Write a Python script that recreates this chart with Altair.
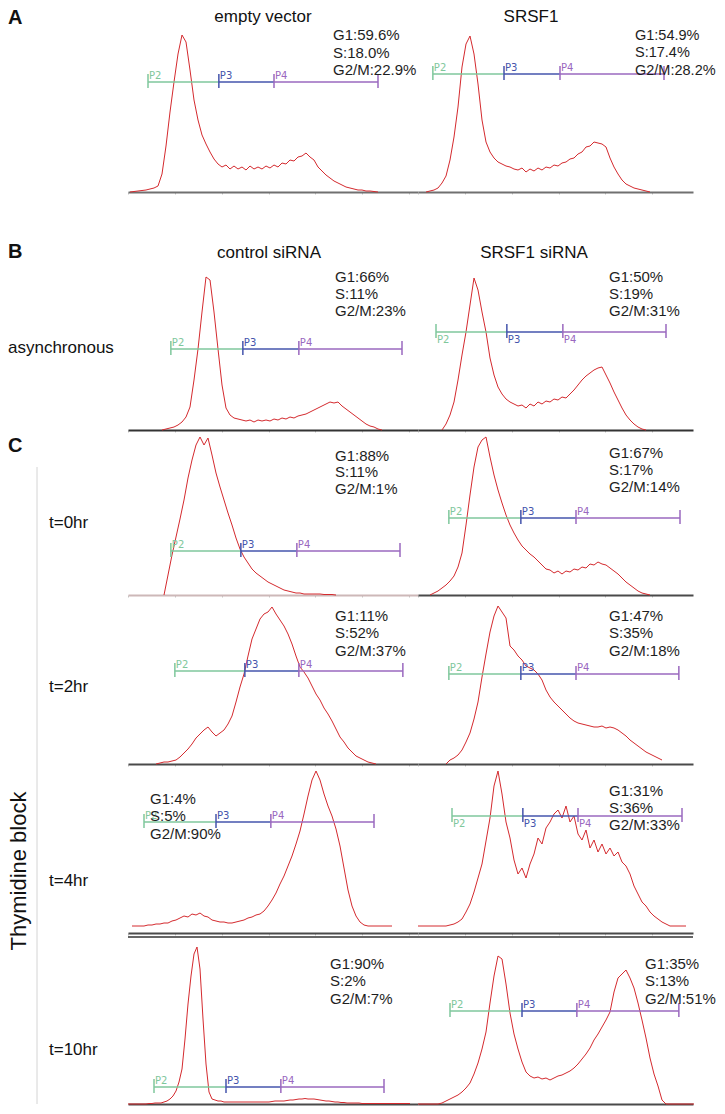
import altair as alt
import pandas as pd

# ---------------------------------------------------------------
# Data.
# x: DNA-content channel (3.5 channels per pixel), evenly spaced bins
# counts: cell counts in arbitrary units (height above baseline)
# ---------------------------------------------------------------
EV_START, EV_STEP = 7, 14
EV_COUNTS = [0, 0.5, 1, 1.5, 2, 3, 4, 6, 18, 46, 80, 110, 138, 157, 150, 122, 92, 72, 57, 48,
             40, 33, 28, 25, 27, 23, 26, 23, 25, 22, 26, 23, 25, 23, 26, 24, 27, 25, 29, 28,
             32, 31, 35, 36, 39, 35, 32, 25, 21, 17, 14, 11, 9, 7, 5, 4, 3, 2, 2, 1, 1, 0.5, 0]

SR_START, SR_STEP = 28, 14
SR_COUNTS = [0, 1, 2, 4, 9, 16, 32, 55, 85, 125, 148, 156, 138, 108, 72, 50, 40, 34, 30, 28,
             26, 25, 23, 22, 24, 20, 23, 21, 24, 22, 25, 24, 27, 26, 29, 30, 33, 34, 38, 40,
             45, 46, 50, 49, 48, 45, 34, 25, 18, 12, 8, 6, 4, 3, 2, 1, 0]

CA_START, CA_STEP = 119, 14
CA_COUNTS = [0, 1, 2, 3, 5, 8, 13, 23, 50, 81, 118, 153, 150, 118, 81, 45, 22, 15, 12, 11,
             10, 9, 10, 8, 10, 9, 10, 9, 11, 10, 12, 11, 13, 12, 14, 15, 16, 18, 20, 22,
             24, 26, 28, 27, 28, 24, 21, 18, 15, 12, 9, 6, 4, 3, 1, 0]

SA_START, SA_STEP = 84, 14
SA_COUNTS = [0, 6, 15, 28, 50, 75, 98, 125, 152, 140, 118, 98, 72, 55, 43, 36, 31, 28, 26, 24,
             25, 22, 26, 24, 28, 26, 29, 28, 31, 30, 33, 32, 36, 40, 45, 50, 54, 57, 60, 62,
             63, 55, 47, 38, 30, 22, 15, 10, 6, 3, 1, 0]

C0_START, C0_STEP = 126, 14
C0_COUNTS = [0, 20, 40, 58, 76, 95, 117, 135, 150, 158, 150, 157, 140, 122, 108, 95, 82, 70, 57, 46,
             38, 32, 26, 22, 19, 16, 13, 11, 9, 7, 5, 4, 3, 2, 2, 1, 1, 1, 1, 1, 0.5, 0.5, 0.5, 0]

S0_START, S0_STEP = 42, 14
S0_COUNTS = [0, 2, 4, 7, 10, 14, 19, 28, 42, 70, 100, 128, 148, 155, 158, 138, 120, 105, 92, 80,
             70, 62, 55, 49, 45, 41, 38, 34, 30, 26, 25, 22, 24, 21, 24, 23, 26, 25, 28, 27,
             31, 30, 33, 31, 30, 27, 24, 21, 17, 13, 10, 7, 4, 2, 1, 0]

C2_START, C2_STEP = 98, 14
C2_COUNTS = [0, 1, 2, 2, 3, 4, 7, 11, 15, 20, 26, 30, 34, 37, 32, 28, 31, 34, 40, 48,
             62, 77, 90, 108, 125, 135, 145, 150, 152, 157, 150, 144, 138, 130, 120, 108, 97, 92, 86, 78,
             70, 64, 56, 50, 43, 35, 27, 22, 16, 12, 8, 6, 4, 2, 1, 0]

S2_START, S2_STEP = 98, 14
S2_COUNTS = [0, 4, 6, 9, 14, 22, 31, 45, 62, 87, 110, 132, 148, 158, 152, 146, 118, 114, 108, 104,
             98, 96, 94, 90, 84, 74, 67, 62, 58, 54, 50, 46, 43, 41, 40, 39, 38, 37, 37, 38,
             36, 37, 36, 34, 31, 28, 24, 21, 18, 15, 12, 10, 8, 6, 4]

C4_START, C4_STEP = 14, 14
C4_COUNTS = [0, 0, 0, 0, 1, 1, 2, 2, 3, 3, 5, 6, 8, 10, 9, 12, 11, 13, 10, 9,
             6, 5, 4, 4, 3, 3, 4, 5, 6, 8, 9, 11, 12, 15, 20, 26, 33, 42, 50, 60,
             70, 82, 95, 112, 130, 146, 155, 146, 132, 120, 110, 97, 80, 58, 36, 20, 10, 4, 1, 0,
             0, 0, 0, 0, 0, 0]

S4_START, S4_STEP = 0, 14
S4_COUNTS = [0, 0, 0, 0, 0, 0, 0, 0, 1, 2, 4, 7, 14, 22, 34, 48, 62, 85, 108, 140,
             155, 132, 104, 88, 66, 52, 58, 48, 62, 72, 88, 82, 98, 104, 112, 116, 108, 120, 104, 110,
             92, 86, 96, 78, 86, 74, 82, 72, 78, 70, 74, 64, 60, 52, 40, 32, 24, 20, 14, 10,
             7, 4, 2, 0, 0, 0, 0, 0]

C10_START, C10_STEP = 0, 10.5
C10_COUNTS = [0, 0, 0, 0, 0, 0, 0, 0.5, 0.5, 1, 1, 1, 2, 3, 5, 8, 13, 22, 35, 65,
              100, 128, 150, 157, 135, 85, 40, 12, 5, 4, 3, 3, 2, 2, 2, 2, 2, 2, 2, 2,
              2, 2, 2, 2, 2, 2, 2, 2, 2.5, 3, 3, 3, 3, 3.5, 4, 4, 4.5, 5, 5, 5.5,
              5, 5, 5, 4.5, 4, 3.5, 3, 3, 2.5, 2, 2, 1.5, 1.5, 1, 1, 1, 1, 1, 0.5, 0.5,
              0.5, 0.5, 0.5, 0.5, 0.5, 0.5, 0.5, 0.5, 0.5, 0.5, 0.5, 0.5, 0.5, 0.5, 0.5]

S10_START, S10_STEP = 0, 14
S10_COUNTS = [0, 0, 0, 0, 0, 0, 1, 3, 5, 7, 9, 12, 16, 21, 30, 41, 55, 72, 101, 128,
              148, 145, 120, 91, 70, 55, 42, 32, 28, 26, 27, 25, 26, 24, 26, 28, 29, 31, 33, 36,
              40, 45, 50, 56, 64, 70, 77, 84, 92, 112, 126, 130, 134, 126, 116, 101, 84, 66, 46, 30,
              18, 4, 0, 0, 0, 0, 0, 0, 0, 0]

# gates P2, P3, P4, end (channel) and gate height (count units)
GATES_EV, GATE_H_EV = [70, 318, 511, 875], 110
GATES_SR, GATE_H_SR = [52, 301, 497, 861], 118
GATES_CA, GATE_H_CA = [150, 402, 598, 959], 81
GATES_SA, GATE_H_SA = [63, 311, 507, 868], 98
GATES_C0, GATE_H_C0 = [150, 395, 591, 952], 44
GATES_S0, GATE_H_S0 = [108, 360, 553, 917], 77
GATES_C2, GATE_H_C2 = [164, 409, 598, 962], 93
GATES_S2, GATE_H_S2 = [108, 360, 553, 913], 90
GATES_C4, GATE_H_C4 = [56, 308, 500, 861], 104
GATES_S4, GATE_H_S4 = [119, 367, 560, 924], 110
GATES_C10, GATE_H_C10 = [91, 343, 535, 896], 17
GATES_S10, GATE_H_S10 = [112, 364, 556, 913], 93

GATE_NAMES = ["P2", "P3", "P4"]

STATS_EV = ["G1:59.6%", "S:18.0%", "G2/M:22.9%"]
STATS_SR = ["G1:54.9%", "S:17.4%", "G2/M:28.2%"]
STATS_CA = ["G1:66%", "S:11%", "G2/M:23%"]
STATS_SA = ["G1:50%", "S:19%", "G2/M:31%"]
STATS_C0 = ["G1:88%", "S:11%", "G2/M:1%"]
STATS_S0 = ["G1:67%", "S:17%", "G2/M:14%"]
STATS_C2 = ["G1:11%", "S:52%", "G2/M:37%"]
STATS_S2 = ["G1:47%", "S:35%", "G2/M:18%"]
STATS_C4 = ["G1:4%", "S:5%", "G2/M:90%"]
STATS_S4 = ["G1:31%", "S:36%", "G2/M:33%"]
STATS_C10 = ["G1:90%", "S:2%", "G2/M:7%"]
STATS_S10 = ["G1:35%", "S:13%", "G2/M:51%"]

COL_TITLES_A = ["empty vector", "SRSF1"]
COL_TITLES_B = ["control siRNA", "SRSF1 siRNA"]
ROW_LABELS = ["asynchronous", "t=0hr", "t=2hr", "t=4hr", "t=10hr"]

# ---------------------------------------------------------------
# styling / layout
# ---------------------------------------------------------------
FONT = "Liberation Sans"
RED = "#d42a2e"
GREEN = "#7fc79c"
BLUE = "#4454ac"
PURPLE = "#9a68bf"
TXT = "#1e1e1e"
DARK = "#4a4a4a"
LIGHT = "#cdb8b8"
CH_PER_PX = 3.5
LEFT_W = 290
RIGHT_W = 275
LABEL_W = 120
ONE = pd.DataFrame({"k": [0]})
H_A, H_B, H_C0, H_C2, H_C4, H_C10 = 184, 238, 165, 169, 162, 178


def text_at(txt, x, y, size, align="left", color=TXT, weight="normal",
            angle=0, font=FONT):
    return alt.Chart(ONE).mark_text(
        align=align, baseline="alphabetic", font=font, fontSize=size, color=color,
        fontWeight=weight, angle=angle,
    ).encode(x=alt.value(x), y=alt.value(y), text=alt.value(txt))


def hist_panel(counts, x0, dx, gates, gh, H, stats, sx, sy, lh=17.5, W=LEFT_W,
               title=None, tx=None, ty=None, below=False, double=False, dom=DARK,
               show_ticks=True, stat_size=15):
    xmax = W * CH_PER_PX
    df = pd.DataFrame({"ch": [x0 + dx * i for i in range(len(counts))], "n": counts})
    xs = alt.Scale(domain=[0, xmax], nice=False, zero=False)
    ys = alt.Scale(domain=[0, H], nice=False, zero=False)
    xaxis = alt.Axis(title=None, labels=False, grid=False, domainColor=dom,
                     domainWidth=2, ticks=show_ticks, tickColor="#c4c4c4", tickSize=2,
                     values=[v * 41 for v in range(int(xmax // 41) + 1)],
                     offset=7 if double else 0)
    curve = alt.Chart(df).mark_line(color=RED, strokeWidth=1).encode(
        x=alt.X("ch:Q", scale=xs, axis=xaxis),
        y=alt.Y("n:Q", scale=ys, axis=None),
    )
    seg_df = pd.DataFrame({"x": gates[:-1], "x2": gates[1:], "y": [gh] * 3,
                           "c": [GREEN, BLUE, PURPLE]})
    segs = alt.Chart(seg_df).mark_rule(strokeWidth=1.5).encode(
        x=alt.X("x:Q", scale=xs), x2="x2:Q", y=alt.Y("y:Q", scale=ys),
        color=alt.Color("c:N", scale=None),
    )
    tick_df = pd.DataFrame({"x": gates, "y": [gh - 6] * 4, "y2": [gh + 8] * 4,
                            "c": [GREEN, BLUE, PURPLE, PURPLE]})
    ticks = alt.Chart(tick_df).mark_rule(strokeWidth=1.5).encode(
        x=alt.X("x:Q", scale=xs), y=alt.Y("y:Q", scale=ys), y2="y2:Q",
        color=alt.Color("c:N", scale=None),
    )
    lab_df = pd.DataFrame({"x": gates[:3], "y": [gh] * 3, "t": GATE_NAMES,
                           "c": [GREEN, BLUE, PURPLE]})
    labs = alt.Chart(lab_df).mark_text(
        align="left", baseline="top" if below else "bottom",
        dy=3 if below else -1, dx=1, font="DejaVu Sans", fontSize=10,
    ).encode(
        x=alt.X("x:Q", scale=xs), y=alt.Y("y:Q", scale=ys), text="t:N",
        color=alt.Color("c:N", scale=None),
    )
    layers = [curve, segs, ticks, labs]
    for i, s in enumerate(stats):
        layers.append(text_at(s, sx, sy + i * lh, stat_size))
    if title is not None:
        layers.append(text_at(title, tx, ty, 17, align="center", color="#111"))
    if double:
        layers.append(alt.Chart(ONE).mark_rule(color="#333", strokeWidth=1.5).encode(
            x=alt.value(0), x2=alt.value(W), y=alt.value(H + 11)))
    return alt.layer(*layers).properties(width=W, height=H)


def label(txt, x, y, size=17, weight="normal", angle=0, align="left"):
    return text_at(txt, x, y, size, align=align, color="#111", weight=weight, angle=angle)


def label_cell(H, *layers):
    return alt.layer(*layers).properties(width=LABEL_W, height=H)


cells = [
    label_cell(H_A, label("A", 0, 16, size=20, weight="bold")),
    hist_panel(EV_COUNTS, EV_START, EV_STEP, GATES_EV, GATE_H_EV, H_A, STATS_EV, 205, 32,
               title=COL_TITLES_A[0], tx=135, ty=14, dom="#707070"),
    hist_panel(SR_COUNTS, SR_START, SR_STEP, GATES_SR, GATE_H_SR, H_A, STATS_SR, 217, 31.5,
               W=RIGHT_W, title=COL_TITLES_A[1], tx=113, ty=14, dom="#707070",
               stat_size=14.5),

    label_cell(H_B, label("B", 0, 66, size=20, weight="bold"),
               label(ROW_LABELS[0], 0, 161)),
    hist_panel(CA_COUNTS, CA_START, CA_STEP, GATES_CA, GATE_H_CA, H_B, STATS_CA, 207, 89.5,
               lh=17, title=COL_TITLES_B[0], tx=141, ty=66, dom="#333333"),
    hist_panel(SA_COUNTS, SA_START, SA_STEP, GATES_SA, GATE_H_SA, H_B, STATS_SA, 191, 89.5,
               lh=17, W=RIGHT_W, title=COL_TITLES_B[1], tx=116, ty=66, below=True,
               dom="#333333"),

    label_cell(H_C0, label("C", 0, 22, size=20, weight="bold"),
               label(ROW_LABELS[1], 41, 98),
               label("Thymidine block", 18, 441, size=22, angle=270, align="center"),
               alt.Chart(ONE).mark_rule(color="#d4d4d4", strokeWidth=1).encode(
                   x=alt.value(29), y=alt.value(37), y2=alt.value(674))),
    hist_panel(C0_COUNTS, C0_START, C0_STEP, GATES_C0, GATE_H_C0, H_C0, STATS_C0, 207, 30.5,
               lh=16.5, dom=LIGHT),
    hist_panel(S0_COUNTS, S0_START, S0_STEP, GATES_S0, GATE_H_S0, H_C0, STATS_S0, 191, 27.5,
               lh=17, W=RIGHT_W),

    label_cell(H_C2, label(ROW_LABELS[2], 41, 97)),
    hist_panel(C2_COUNTS, C2_START, C2_STEP, GATES_C2, GATE_H_C2, H_C2, STATS_C2, 207, 25.5),
    hist_panel(S2_COUNTS, S2_START, S2_STEP, GATES_S2, GATE_H_S2, H_C2, STATS_S2, 191, 25.5,
               W=RIGHT_W),

    label_cell(H_C4, label(ROW_LABELS[3], 41, 122)),
    hist_panel(C4_COUNTS, C4_START, C4_STEP, GATES_C4, GATE_H_C4, H_C4, STATS_C4, 22, 39.5,
               double=True),
    hist_panel(S4_COUNTS, S4_START, S4_STEP, GATES_S4, GATE_H_S4, H_C4, STATS_S4, 191, 31.5,
               lh=17, W=RIGHT_W, below=True, double=True),

    label_cell(H_C10, label(ROW_LABELS[4], 41, 129)),
    hist_panel(C10_COUNTS, C10_START, C10_STEP, GATES_C10, GATE_H_C10, H_C10, STATS_C10, 202, 42.5,
               show_ticks=False),
    hist_panel(S10_COUNTS, S10_START, S10_STEP, GATES_S10, GATE_H_S10, H_C10, STATS_S10, 227, 42.5,
               W=RIGHT_W, show_ticks=False),
]

chart = alt.concat(*cells, columns=3, spacing=0, bounds="flush", align="each").properties(
    padding=0
).configure_view(strokeWidth=0)

chart.save("out.html", embed_options={"renderer": "svg", "actions": False})
